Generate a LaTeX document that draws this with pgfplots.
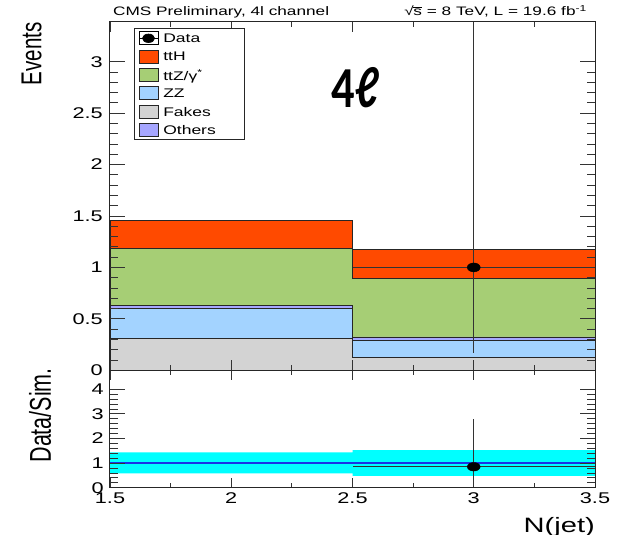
\documentclass[border=0pt]{standalone}
\usepackage{fontspec}
\setmainfont[FakeStretch=1.4]{Liberation Sans}
\newfontfamily\rotfont[FakeStretch=0.714]{Liberation Sans}
\newfontfamily\ellfont[FakeStretch=0.8]{Carlito}
\usepackage{pgfplots}
\pgfplotsset{compat=1.18}
\definecolor{tthc}{RGB}{255,74,0}
\definecolor{ttzc}{RGB}{166,206,117}
\definecolor{zzc}{RGB}{163,211,255}
\definecolor{fakc}{RGB}{211,211,211}
\definecolor{othc}{RGB}{166,166,255}
\definecolor{bandc}{RGB}{0,255,255}
\definecolor{bluel}{RGB}{26,51,230}
\begin{document}
\begin{tikzpicture}
\pgfplotsset{
  every axis/.append style={
    scale only axis, width=485bp,
    xmin=1.5, xmax=3.5, ymin=0,
    axis on top,
    xtick={1.5,2,2.5,3,3.5}, minor x tick num=1,
    major tick length=15bp, minor tick length=8bp,
    xtick style={/pgfplots/major tick length=10bp, /pgfplots/minor tick length=5bp},
    tick style={line width=0.8bp, black!80},
    axis line style={line width=1bp, black!85},
    /pgf/number format/assume math mode=true,
    xticklabel={\pgfmathprintnumber[assume math mode=true]{\tick}},
    yticklabel={\pgfmathprintnumber[assume math mode=true]{\tick}},
    tick label style={font=\fontsize{15.5bp}{16bp}\selectfont},
    yticklabel style={anchor=east, inner sep=0pt, xshift=-7bp},
  },
  hbar/.style={const plot, draw=black!85, line width=0.8bp, forget plot},
}
\begin{axis}[
  name=top, height=348.3bp, ymax=3.386, clip=false,
  ytick={0,0.5,1,1.5,2,2.5,3}, minor y tick num=4,
  xticklabels={},
  ylabel={\rotfont\fontsize{28.8bp}{30bp}\selectfont Events},
  ylabel style={at={(axis description cs:-0.1619,1.0),}, anchor=east, inner sep=0pt, text depth=0pt},
  legend style={at={(rel axis cs:0.0495,0.9828)}, anchor=north west, draw=black!85, line width=0.8bp, fill=white,
    inner xsep=4bp, inner ysep=3bp, row sep=4.6bp, column sep=4.7bp,
    font=\fontsize{12.5bp}{14bp}\selectfont, nodes={inner sep=0pt, text depth=0pt}, cells={anchor=west}},
]
% stacked histogram (cumulative tops), drawn from the top layer downwards
\addplot[hbar, fill=tthc] coordinates {(1.5,1.454) (2.5,1.176) (3.5,1.176)} \closedcycle;
\addplot[hbar, fill=ttzc] coordinates {(1.5,1.186) (2.5,0.894) (3.5,0.894)} \closedcycle;
\addplot[hbar, fill=othc] coordinates {(1.5,0.628) (2.5,0.324) (3.5,0.324)} \closedcycle;
\addplot[hbar, fill=zzc] coordinates {(1.5,0.603) (2.5,0.295) (3.5,0.295)} \closedcycle;
\addplot[hbar, fill=fakc] coordinates {(1.5,0.311) (2.5,0.126) (3.5,0.126)} \closedcycle;
% data
\addplot[only marks, mark=*, mark size=4.5bp, mark options={xscale=1.45, fill=black, draw=black}, forget plot,
  error bars/.cd, x dir=both, x explicit, y dir=both, y explicit, error mark=none,
  error bar style={line width=1bp, black!80}]
  coordinates {(3,1) +=(0.5,2.386) -=(0.5,0.827)};
% legend
\addlegendimage{legend image code/.code={
  \path (0bp,-6.5bp) rectangle (19bp,6.5bp);
  \draw[black, line width=1.2bp] (0bp,0bp) -- (19bp,0bp);
  \fill[black] (9.5bp,0bp) ellipse [x radius=6bp, y radius=4.2bp];}}
\addlegendentry{\makebox[77bp][l]{Data}}
\addlegendimage{legend image code/.code={\draw[fill=tthc, draw=black!85, line width=0.7bp] (0bp,-6.5bp) rectangle (19bp,6.5bp);}}
\addlegendentry{\makebox[77bp][l]{ttH}}
\addlegendimage{legend image code/.code={\draw[fill=ttzc, draw=black!85, line width=0.7bp] (0bp,-6.5bp) rectangle (19bp,6.5bp);}}
\addlegendentry{\makebox[77bp][l]{ttZ/γ\textsuperscript{*}}}
\addlegendimage{legend image code/.code={\draw[fill=zzc, draw=black!85, line width=0.7bp] (0bp,-6.5bp) rectangle (19bp,6.5bp);}}
\addlegendentry{\makebox[77bp][l]{ZZ}}
\addlegendimage{legend image code/.code={\draw[fill=fakc, draw=black!85, line width=0.7bp] (0bp,-6.5bp) rectangle (19bp,6.5bp);}}
\addlegendentry{\makebox[77bp][l]{Fakes}}
\addlegendimage{legend image code/.code={\draw[fill=othc, draw=black!85, line width=0.7bp] (0bp,-6.5bp) rectangle (19bp,6.5bp);}}
\addlegendentry{\makebox[77bp][l]{Others}}
% texts
\node[anchor=base west, inner sep=0pt, xshift=3bp, yshift=6bp, font=\fontsize{12.3bp}{14bp}\selectfont]
  at (rel axis cs:0,1) {CMS Preliminary, 4l channel};
\node[anchor=base east, inner sep=0pt, xshift=-8bp, yshift=6bp, font=\fontsize{12.3bp}{14bp}\selectfont]
  at (rel axis cs:1,1) {√\kern-0.03em\rlap{\rule[0.66em]{0.7em}{0.06em}}s = 8 TeV, L = 19.6 fb\textsuperscript{-1}};
\node[anchor=center, inner sep=0pt] at (axis cs:2.514,2.749) {\ellfont\bfseries\fontsize{58bp}{60bp}\selectfont 4ℓ};
\coordinate (TL) at (rel axis cs:0,1);
\end{axis}
\begin{axis}[
  at={(top.south west)}, anchor=north west, height=117.4bp, ymax=4.772,
  ytick={0,1,2,3,4}, minor y tick num=4,
  xticklabel style={anchor=north, inner sep=0pt, yshift=-5bp},
  yticklabel style={xshift=1bp},
  ylabel={\rotfont\fontsize{30.1bp}{32bp}\selectfont Data/Sim.},
  ylabel style={at={(axis description cs:-0.1443,1.02)}, anchor=east, inner sep=0pt, text depth=0pt},
  xlabel={N(jet)},
  xlabel style={at={(axis description cs:1,0)}, anchor=base east, inner sep=0pt, yshift=-44.3bp, font=\fontsize{20.8bp}{22bp}\selectfont},
]
\addplot[fill=bandc, draw=none, forget plot] coordinates {(1.5,0.585) (2.5,0.585) (2.5,0.48) (3.5,0.48) (3.5,1.53) (2.5,1.53) (2.5,1.44) (1.5,1.44)};
\addplot[line width=1.6bp, color=bluel, forget plot] coordinates {(1.5,1) (3.5,1)};
\addplot[only marks, mark=*, mark size=4.3bp, mark options={xscale=1.5, fill=black, draw=black}, forget plot,
  error bars/.cd, x dir=both, x explicit, y dir=both, y explicit, error mark=none,
  error bar style={line width=1bp, black!80}]
  coordinates {(3,0.851) +=(0.5,1.94) -=(0.5,0.72)};
\end{axis}
\pgfresetboundingbox
\path (TL) ++(-110bp,22bp) rectangle ++(623bp,-535bp);
\end{tikzpicture}
\end{document}
